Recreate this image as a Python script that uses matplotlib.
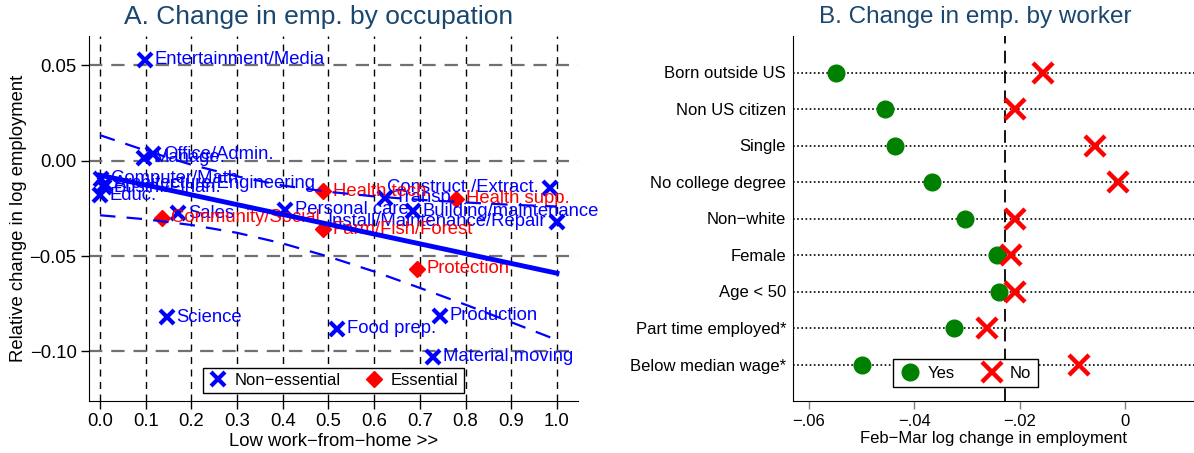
import matplotlib
matplotlib.use('Agg')
import matplotlib.pyplot as plt
import numpy as np

plt.rcParams['font.family'] = ['Liberation Sans', 'DejaVu Sans']
plt.rcParams['axes.unicode_minus'] = True

# ---- panel A: occupations ----
ne_names = ['Entertainment/Media', 'Office/Admin.', 'Manage.', 'Computer/Math.',
            'Architecture/Engineering', 'Busin./Finan.', 'Educ.', 'Sales', 'Science',
            'Personal care', 'Food prep.', 'Transp.', 'Building/maintenance',
            'Production', 'Material moving', 'Construct./Extract.',
            'Install/Maintenance/Repair']
ne_wfh = [0.098, 0.116, 0.096, 0.003, 0.010, 0.008, 0.000, 0.171, 0.146,
          0.405, 0.519, 0.624, 0.685, 0.744, 0.729, 0.985, 1.000]
ne_emp = [0.053, 0.0035, 0.0015, -0.0095, -0.012, -0.014, -0.018, -0.0275, -0.082,
          -0.0257, -0.088, -0.0195, -0.0266, -0.0812, -0.1027, -0.0142, -0.032]

es_names = ['Community/Social', 'Health tech.', 'Farm/Fish/Forest', 'Health supp.', 'Protection']
es_wfh = [0.135, 0.488, 0.488, 0.780, 0.694]
es_emp = [-0.030, -0.0161, -0.036, -0.020, -0.0567]

left_labels = ['Construct./Extract.', 'Install/Maintenance/Repair']

fit_x = [0.0, 1.0]
fit_y = [-0.0076, -0.059]
band_x = [0.0, 0.1, 0.2, 0.3, 0.4, 0.5, 0.6, 0.7, 0.8, 0.9, 1.0]
band_hi = [0.0134, 0.0053, -0.0021, -0.0082, -0.0130, -0.0163, -0.0187, -0.0205, -0.0219, -0.0231, -0.0240]
band_lo = [-0.0286, -0.0307, -0.0337, -0.0378, -0.0434, -0.0503, -0.0581, -0.0667, -0.0755, -0.0847, -0.0940]

# ---- panel B: worker groups ----
groups = ['Born outside US', 'Non US citizen', 'Single', 'No college degree', 'Non\u2212white',
          'Female', 'Age < 50', 'Part time employed*', 'Below median wage*']
yes_vals = [-0.0548, -0.0456, -0.0436, -0.0367, -0.0303, -0.0243, -0.0239, -0.0324, -0.0499]
no_vals = [-0.0155, -0.0208, -0.0057, -0.0014, -0.0208, -0.0217, -0.0208, -0.0261, -0.0087]
overall = -0.0227

title_col = '#1a476f'
fsa = 13.3   # panel A text
fsb = 12.0   # panel B text

fig = plt.figure(figsize=(11.94, 4.53), dpi=100)
ax = fig.add_axes([89/1194, 52/453, 489/1194, 365/453])
ax2 = fig.add_axes([793/1194, 52/453, 401/1194, 365/453])

# panel A
ax.set_xlim(-0.024, 1.046)
ax.set_ylim(-0.126, 0.0654)
xt = np.round(np.arange(0, 1.01, 0.1), 1)
yt = [-0.10, -0.05, 0.0, 0.05]
for v in xt:
    ax.axvline(v, color='black', ls=(0, (5, 4)), lw=1.0, zorder=0)
for v in yt:
    ax.axhline(v, color='#707070', ls=(0, (6, 4)), lw=1.6, zorder=0)
ax.set_xticks(xt)
ax.set_xticklabels(['%.1f' % v for v in xt], fontsize=fsa)
ax.set_yticks(yt)
ax.set_yticklabels(['\u22120.10', '\u22120.05', '0.00', '0.05'], fontsize=fsa)
ax.tick_params(direction='out', length=6, width=1, pad=3)
ax.spines['top'].set_visible(False)
ax.spines['right'].set_visible(False)

ax.plot(ne_wfh, ne_emp, ls='none', marker='x', ms=10, mew=3, color='blue',
        label='Non\u2212essential', zorder=3)
ax.plot(es_wfh, es_emp, ls='none', marker='D', ms=8, color='red',
        label='Essential', zorder=3)
for n, x, y in zip(ne_names, ne_wfh, ne_emp):
    if n in left_labels:
        ax.annotate(n, (x, y), xytext=(-8, 0), textcoords='offset points',
                    ha='right', va='center', color='blue', fontsize=fsa, zorder=4)
    else:
        ax.annotate(n, (x, y), xytext=(7, 0), textcoords='offset points',
                    ha='left', va='center', color='blue', fontsize=fsa, zorder=4)
for n, x, y in zip(es_names, es_wfh, es_emp):
    ax.annotate(n, (x, y), xytext=(7, 0), textcoords='offset points',
                ha='left', va='center', color='red', fontsize=fsa, zorder=4)

ax.plot(fit_x, fit_y, color='blue', lw=3.5, zorder=5)
ax.plot(band_x, band_hi, color='blue', lw=1.6, ls=(0, (7, 5)), zorder=5)
ax.plot(band_x, band_lo, color='blue', lw=1.6, ls=(0, (7, 5)), zorder=5)

ax.set_xlabel('Low work\u2212from\u2212home >>', fontsize=fsa, labelpad=2)
ax.set_ylabel('Relative change in log employment', fontsize=fsa, labelpad=2)
leg = ax.legend(loc='lower center', bbox_to_anchor=(0.5, 0.0), ncol=2, fontsize=12,
                frameon=True, fancybox=False, edgecolor='black', framealpha=1,
                handletextpad=0.4, columnspacing=1.4, borderpad=0.3, handlelength=1.2)
leg.get_frame().set_linewidth(1.0)
leg.set_zorder(6)
fig.text(319/1194, 1 - 17/453, 'A. Change in emp. by occupation', ha='center', va='center',
         fontsize=19, color=title_col)

# panel B
rows = np.arange(1, len(groups) + 1)
ax2.set_xlim(-0.063, 0.0131)
ax2.set_ylim(10, 0)
for r in rows:
    ax2.axhline(r, color='black', ls=(0, (1, 1.5)), lw=1.2, zorder=0)
ax2.axvline(overall, color='black', ls=(0, (7, 4)), lw=1.3, zorder=1)
ax2.plot(yes_vals, rows, ls='none', marker='o', ms=12, color='green', label='Yes', zorder=3)
ax2.plot(no_vals, rows, ls='none', marker='x', ms=14, mew=3.2, color='red', label='No', zorder=3)
ax2.set_yticks(rows)
ax2.set_yticklabels(groups, fontsize=fsb)
ax2.tick_params(axis='y', length=0, pad=5)
ax2.set_xticks([-0.06, -0.04, -0.02, 0.0])
ax2.set_xticklabels(['\u2212.06', '\u2212.04', '\u2212.02', '0'], fontsize=fsb)
ax2.tick_params(axis='x', direction='out', length=6, width=1, color='#808080', pad=3)
ax2.spines['top'].set_visible(False)
ax2.spines['right'].set_visible(False)
ax2.set_xlabel('Feb\u2212Mar log change in employment', fontsize=fsb, labelpad=2)
leg2 = ax2.legend(loc='lower center', bbox_to_anchor=(0.43, 0.015), ncol=2, fontsize=fsb,
                  frameon=True, fancybox=False, edgecolor='black', framealpha=1,
                  handletextpad=0.5, columnspacing=1.6, borderpad=0.4, handlelength=1.2)
leg2.get_frame().set_linewidth(1.0)
fig.text(975/1194, 1 - 17/453, 'B. Change in emp. by worker', ha='center', va='center',
         fontsize=17.5, color=title_col)

fig.savefig('out.png', dpi=100)
